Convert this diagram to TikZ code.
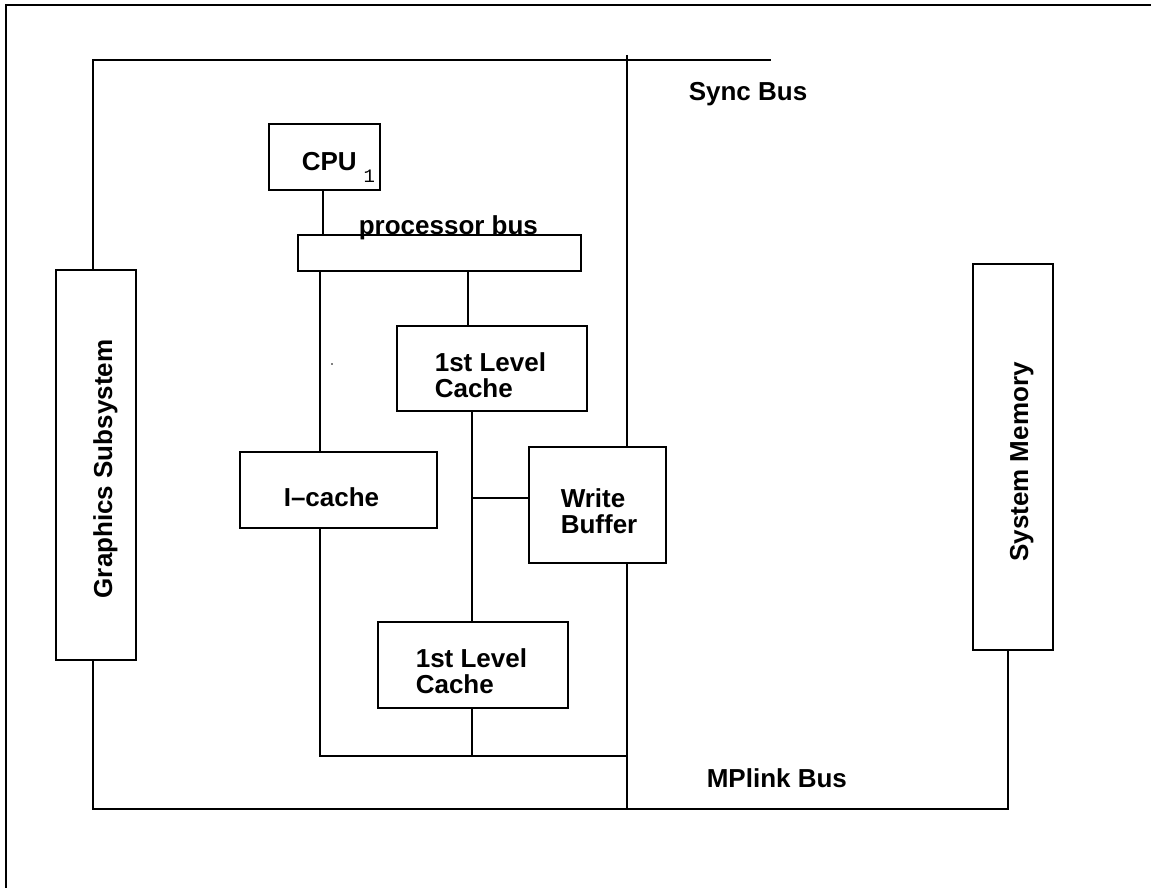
\documentclass[tikz,border=0pt]{standalone}
\usepackage{fontspec}
\setmainfont{Liberation Sans}
\setmonofont{Liberation Mono}
\begin{document}
\begin{tikzpicture}[x=1pt,y=-1pt,line width=1.6pt,
  box/.style={draw,fill=white,inner sep=0pt},
  txt/.style={inner sep=0pt,anchor=north west,align=left,
    font=\fontsize{26}{26}\selectfont\bfseries},
  vtxt/.style={inner sep=0pt,anchor=base,rotate=90,
    font=\fontsize{26}{26}\selectfont\bfseries}]
\useasboundingbox (0,0) rectangle (1151,888);
% outer frame (only top and left visible)
\draw (6,900) -- (6,5) -- (1160,5);
% named free ends
\coordinate (sL) at (93,60);
\coordinate (sR) at (771,60);
\coordinate (mL) at (93,809);
\coordinate (mR) at (1008,809);
\coordinate (vT) at (627,55);
\coordinate (vB) at (627,809);
\coordinate (ib) at (320,756);
\coordinate (cx) at (472,756);
\coordinate (j)  at (472,498);
% main vertical bus line
\draw (vT) -- (vB);
% boxes
\node[box,minimum width=80,minimum height=390] (gfx) at (96,465) {};
\node[box,minimum width=80,minimum height=386] (mem) at (1013,457) {};
\node[box,minimum width=111,minimum height=66] (cpu) at (324.5,157) {};
\node[box,minimum width=283,minimum height=36] (pbus) at (439.5,253) {};
\node[box,minimum width=190,minimum height=85] (l1a) at (492,368.5) {};
\node[box,minimum width=137,minimum height=116] (wbuf) at (597.5,505) {};
\node[box,minimum width=197,minimum height=76] (icache) at (338.5,490) {};
\node[box,minimum width=190,minimum height=86] (l1b) at (473,665) {};
% texts
\node[vtxt] (gfxt) at (112,469) {Graphics Subsystem};
\node[vtxt] (memt) at (1028,462) {System Memory};
\node[txt] (cput) at (301,152) {CPU\hspace{7pt}\raisebox{-12pt}{\fontsize{19}{19}\selectfont\mdseries\ttfamily 1}};
\node[txt] (pbust) at (358,215) {processor bus};
\node[txt] (l1at) at (434,352) {1st Level\\Cache};
\node[txt] (wbuft) at (560,488) {Write\\Buffer};
\node[txt] (icachet) at (283,487) {I\textendash cache};
\node[txt] (l1bt) at (415,648) {1st Level\\Cache};
\node[txt] (synct) at (688,82) {Sync Bus};
\node[txt] (mplt) at (706,768) {MPlink Bus};
% connectors
\draw (gfx.north -| sL) -- (sL) -- (sR);
\draw (gfx.south -| mL) -- (mL) -- (mR) -- (mem.south -| mR);
\draw ([xshift=-1.5pt]cpu.south) -- ([xshift=-1.5pt]cpu.south |- pbus.north);
\draw (pbus.south -| ib) -- (icache.north -| ib);
\draw (icache.south -| ib) -- (ib) -- (ib -| vB);
\draw ([xshift=-24pt]l1a.north |- pbus.south) -- ([xshift=-24pt]l1a.north);
\draw (l1a.south -| j) -- (l1b.north -| j);
\draw (j) -- (j -| wbuf.west);
\draw (l1b.south -| cx) -- (cx);
% stray dot
\fill (332,364) circle (0.8);
\end{tikzpicture}
\end{document}
